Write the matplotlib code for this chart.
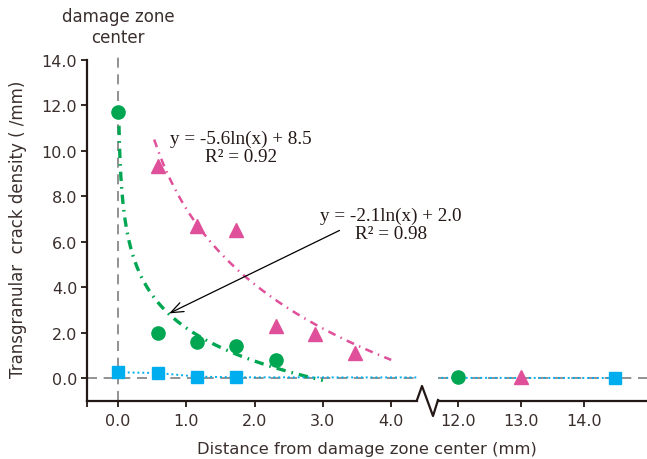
import numpy as np
import matplotlib
matplotlib.use('Agg')
import matplotlib.pyplot as plt
from matplotlib.lines import Line2D

# data (x in mm, y in cracks per mm)
green_x = [0.0, 0.58, 1.16, 1.73, 2.31, 12.0]
green_y = [11.7, 2.0, 1.58, 1.4, 0.8, 0.06]
pink_x = [0.58, 1.16, 1.73, 2.31, 2.89, 3.47, 13.0]
pink_y = [9.35, 6.7, 6.5, 2.3, 1.95, 1.1, 0.05]
blue_x = [0.0, 0.58, 1.16, 1.73, 14.5]
blue_y = [0.25, 0.22, 0.06, 0.03, 0.0]

# log trendlines y = a*ln(x) + b, as drawn
green_fit = (-2.1, 2.2, 0.0144, 3.0)
pink_fit = (-4.8, 7.45, 0.53, 4.0)

eq_green = "y = -2.1ln(x) + 2.0\nR\u00b2 = 0.98"
eq_pink = "y = -5.6ln(x) + 8.5\nR\u00b2 = 0.92"

left_ticks = [0.0, 1.0, 2.0, 3.0, 4.0]
right_ticks = [12.0, 13.0, 14.0]
y_ticks = [0.0, 2.0, 4.0, 6.0, 8.0, 10.0, 12.0, 14.0]

c_green = '#00a651'
c_pink = '#e0509a'
c_blue = '#00aeef'
c_ink = '#231815'
c_grid = '#7f7f7f'

W, H = 647, 460
fig = plt.figure(figsize=(W / 100, H / 100), dpi=100)
ax1 = fig.add_axes([87 / W, 58.3 / H, 330 / W, 340.7 / H])
ax2 = fig.add_axes([438 / W, 58.3 / H, 209 / W, 340.7 / H])

ax1.set_xlim(-0.454, 4.378)
ax2.set_xlim(11.687, 15.005)
for ax in (ax1, ax2):
    ax.set_ylim(-1, 14)
    ax.patch.set_alpha(0)
    for s in ('top', 'right'):
        ax.spines[s].set_visible(False)
    ax.spines['bottom'].set_color(c_ink)
    ax.spines['bottom'].set_linewidth(1.6)
    ax.axhline(0, color=c_grid, lw=1.2, dashes=(6, 4), zorder=1)

ax2.spines['left'].set_visible(False)
ax2.set_yticks([])
ax1.spines['left'].set_color(c_ink)
ax1.spines['left'].set_linewidth(1.6)

ax1.axvline(0, ymin=0, ymax=1.01, color=c_grid, lw=1.2, dashes=(6, 4),
            clip_on=False, zorder=1)

# trendlines
for (a, b, x0, x1), col, lw, dsh in [
        (green_fit, c_green, 2.4, (2.8, 1.8, 0.5, 1.8)),
        (pink_fit, c_pink, 1.8, (3.2, 2.2, 0.6, 2.2))]:
    xs = np.geomspace(x0, x1, 200)
    ax1.plot(xs, a * np.log(xs) + b, color=col, lw=lw, dashes=dsh, zorder=2)

for ax in (ax1, ax2):
    ax.plot(blue_x, blue_y, color=c_blue, lw=1.4, ls=(0, (1, 1.5)), zorder=2)
    ax.plot(green_x, green_y, 'o', color=c_green, ms=9.5, zorder=3)
    ax.plot(pink_x, pink_y, '^', color=c_pink, ms=9.5, zorder=3)
    ax.plot(blue_x, blue_y, 's', color=c_blue, ms=9, zorder=3)

tick_kw = dict(colors=c_ink, labelcolor='#3a2f2d', labelsize=11.5, width=1.3)
ax1.set_yticks(y_ticks)
ax1.set_yticklabels([f"{v:.1f}" for v in y_ticks])
ax1.tick_params(axis='y', direction='out', length=4, pad=3, **tick_kw)
ax1.set_xticks(left_ticks)
ax1.set_xticklabels([f"{v:.1f}" for v in left_ticks])
ax1.set_xticks([-0.454], minor=True)
ax1.tick_params(axis='x', which='minor', direction='out', length=4, width=1.3,
                colors=c_ink)
ax2.set_xticks(right_ticks)
ax2.set_xticklabels([f"{v:.1f}" for v in right_ticks])
for ax in (ax1, ax2):
    ax.tick_params(axis='x', direction='out', length=4, pad=5, **tick_kw)

# equations and arrow
ax1.text(1.80, 10.15, eq_pink, ha='center', va='center', ma='center',
         family='Liberation Serif', fontsize=13.8, color=c_ink, linespacing=1.1)
ax1.text(4.0, 6.77, eq_green, ha='center', va='center', ma='center',
         family='Liberation Serif', fontsize=13.8, color=c_ink, linespacing=1.1,
         clip_on=False)
ax1.annotate('', xy=(0.713, 2.79), xytext=(3.28, 6.55),
             arrowprops=dict(arrowstyle='->,head_length=0.9,head_width=0.35',
                             color='black', lw=0.9))

# axis break zigzag
zz = [(417, 401), (422, 387), (433, 417), (438, 401)]
fig.add_artist(Line2D([p[0] / W for p in zz], [1 - p[1] / H for p in zz],
                      color=c_ink, lw=1.6, transform=fig.transFigure))

fig.text(18 / W, 1 - 229 / H, "Transgranular  crack density ( /mm)",
         rotation=90, ha='center', va='center', fontsize=12, color='#3a2f2d')
fig.text(367 / W, 1 - 450 / H, "Distance from damage zone center (mm)",
         ha='center', va='center', fontsize=11.8, color='#3a2f2d')
fig.text(118 / W, 1 - 27.5 / H, "damage zone\ncenter", ha='center',
         va='center', fontsize=12, color='#3a2f2d', linespacing=1.25)

fig.savefig('out.png', dpi=100)
